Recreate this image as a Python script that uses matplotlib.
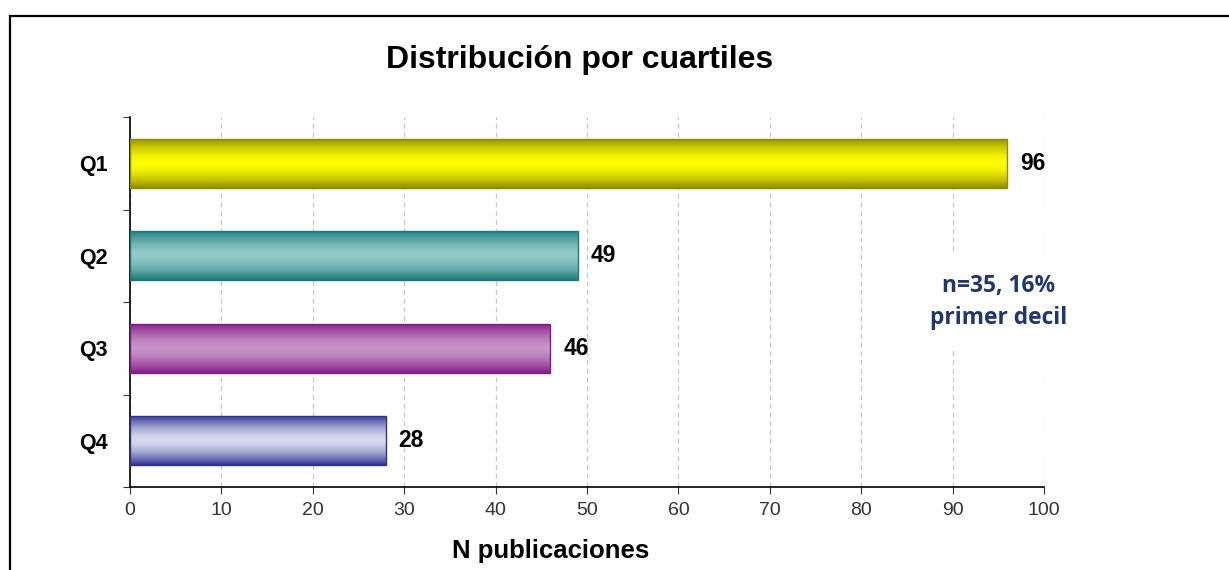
# -*- coding: utf-8 -*-

"""
Output: out.png
Distribución por cuartiles - horizontal bar chart with gradient bars
"""

import numpy as np
import matplotlib.pyplot as plt
from matplotlib.colors import to_rgb
from matplotlib.patches import Rectangle

# data
categories = ["Q1", "Q2", "Q3", "Q4"]
counts = [96, 49, 46, 28]
note_text = "n=35, 16%\nprimer decil"

# bar colours (edge, centre)
edge_colors = ["#8f8c00", "#1b7b78", "#801c84", "#2e3192"]
centre_colors = ["#ffff00", "#93cac7", "#c993c9", "#d8daee"]

plt.rcParams['font.family'] = ['Liberation Sans', 'DejaVu Sans']

fig = plt.figure(figsize=(12.29, 5.7), dpi=100)
ax = fig.add_axes([130/1229, 1-487/570, (1044-130)/1229, (487-117)/570])

# outer frame
fig.patches.append(Rectangle((10/1229, -0.1), 1.2, 1-16/570+0.1, transform=fig.transFigure,
                             fill=False, edgecolor="black", linewidth=1.6, zorder=10))

ypos = np.arange(len(categories))
bar_h = 0.53

bars = ax.barh(ypos, counts, height=bar_h, color="none", edgecolor=edge_colors, linewidth=1, zorder=3)

# gradient fill for each bar
t = np.linspace(0, 1, 200)
profile = 1 - np.abs(2*t - 1)**1.6
for b, ec, cc in zip(bars, edge_colors, centre_colors):
    e = np.array(to_rgb(ec))
    c = np.array(to_rgb(cc))
    img = e[None, :] + (c - e)[None, :] * profile[:, None]
    x0, y0 = b.get_x(), b.get_y()
    w, h = b.get_width(), b.get_height()
    im = ax.imshow(img[:, None, :], extent=[x0, x0+w, y0+h, y0], aspect='auto',
                   interpolation='bilinear', zorder=2)
    im.set_clip_path(b)
    ax.text(x0 + w + 1.4, y0 + h/2, str(int(w)), va='center', ha='left',
            fontsize=16.5, fontweight='bold', color='black')

ax.set_xlim(0, 100)
ax.set_ylim(3.5, -0.5)
ax.set_xticks(np.arange(0, 101, 10))
ax.tick_params(axis='x', labelsize=14, colors='#333333', length=5, direction='out', pad=6)

# category labels, ticks between categories
ax.set_yticks(np.arange(-0.5, 3.6, 1.0))
ax.set_yticklabels([])
ax.set_yticks(ypos, minor=True)
ax.set_yticklabels(categories, minor=True, fontsize=15.5, fontweight='bold')
ax.tick_params(axis='y', which='minor', length=0, pad=16)
ax.tick_params(axis='y', which='major', length=5, color='#333333')

ax.grid(axis='x', color='#c8c8c8', linestyle=(0, (4, 3)), linewidth=0.9, zorder=0)
ax.set_axisbelow(True)
for s in ['top', 'right']:
    ax.spines[s].set_visible(False)
ax.spines['left'].set_linewidth(1.2)
ax.spines['bottom'].set_linewidth(1.2)

fig.text(551/1229, 1-551/570, "N publicaciones", ha='center', va='center',
         fontsize=18.5, fontweight='bold')
fig.text(580/1229, 1-60/570, "Distribución por cuartiles", ha='center', va='center',
         fontsize=23, fontweight='bold')

# note with white box hiding the gridlines behind it
ax.text(95, 1.5, note_text, ha='center', va='center', fontsize=16.4, fontweight='bold',
        color='#1f3670', family=['Open Sans', 'DejaVu Sans'], linespacing=1.45, zorder=4,
        bbox=dict(boxstyle='square,pad=0.9', facecolor='white', edgecolor='none'))

plt.savefig('out.png', dpi=100)
